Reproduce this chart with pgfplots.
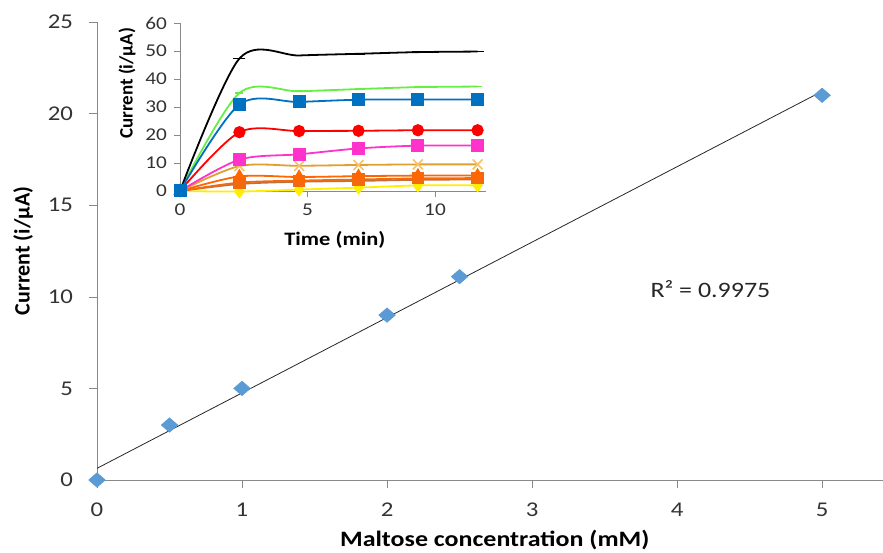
\documentclass[border=0pt]{standalone}
\usepackage{fontspec}
\setmainfont{Carlito}[FakeStretch=1.18]
\newfontfamily\nfont{Carlito}
\usepackage{pgfplots}
\pgfplotsset{compat=1.18}
\definecolor{diam}{HTML}{5B9BD5}
\definecolor{axgray}{HTML}{898989}
\definecolor{igreen}{HTML}{66EE44}
\definecolor{iblue}{HTML}{0070C0}
\definecolor{ired}{HTML}{FF0000}
\definecolor{imag}{HTML}{FF33CC}
\definecolor{igoldl}{HTML}{E0A030}
\definecolor{igoldm}{HTML}{F5C26B}
\definecolor{iorange}{HTML}{FF6600}
\definecolor{iorsq}{HTML}{F26A10}
\definecolor{ibrown}{HTML}{C07040}
\definecolor{iyellow}{HTML}{FFEE00}
\begin{document}
\begin{tikzpicture}
\begin{axis}[
  at={(0,0)}, anchor=south west, scale only axis,
  width=393pt, height=229pt,
  xmin=0, xmax=5.42, ymin=0, ymax=25,
  axis lines=left, axis line style={axgray, -},
  xtick={0,1,2,3,4,5}, ytick={0,5,10,15,20,25},
  tick style={axgray}, tick align=outside, major tick length=4pt,
  /pgf/number format/assume math mode=true,
  ticklabel style={font=\fontsize{10.5}{12}\selectfont, text=black!80},
  xticklabel style={yshift=-4pt},
  yticklabel style={xshift=-4.5pt},
  xlabel={\textbf{Maltose concentration (mM)}},
  ylabel={\nfont\bfseries Current (i/µA)},
  label style={font=\fontsize{11}{13}\selectfont},
  xlabel style={at={(axis description cs:0.506,-0.131)}, anchor=center},
  ylabel style={at={(axis description cs:-0.094,0.5)}, anchor=center},
  clip=false,
]
\addplot[black!85, thin, no marks] coordinates {(0,0.637) (5,21.217)};
\addplot[only marks, mark=square*, mark size=2.5pt, draw=none, fill=diam, color=diam,
  mark options={xscale=1.15, rotate=45}]
 coordinates {(0,0) (0.5,3) (1,5) (2,9) (2.5,11.1) (5,21)};
\node[font=\fontsize{11}{13}\selectfont, text=black!85] at (axis cs:4.23,10.4) {R² = 0.9975};
\end{axis}
\begin{axis}[
  at={(41.5pt,144.5pt)}, anchor=south west, scale only axis,
  width=153pt, height=84pt,
  xmin=0, xmax=12, ymin=0, ymax=60,
  axis lines=left, axis line style={axgray, -},
  xtick={0,5,10}, ytick={0,10,20,30,40,50,60},
  tick style={axgray}, tick align=outside, major tick length=3pt,
  /pgf/number format/assume math mode=true,
  ticklabel style={font=\fontsize{9}{11}\selectfont, text=black!80},
  xlabel={\textbf{Time (min)}},
  ylabel={\nfont\bfseries Current (i/µA)},
  label style={font=\fontsize{9.5}{11}\selectfont},
  xlabel style={at={(axis description cs:0.506,-0.292)}, anchor=center},
  ylabel style={at={(axis description cs:-0.173,0.64)}, anchor=center},
  clip=false,
  every axis plot/.append style={smooth, tension=0.5, line width=0.9pt},
]
\addplot[iyellow, mark=diamond*, mark size=2.8pt, mark options={fill=iyellow}]
 coordinates {(0,0) (2.33,-0.2) (4.67,0.5) (7,1.2) (9.33,2.0) (11.67,2.0)};
\addplot[ibrown, no marks]
 coordinates {(0,0) (2.33,2.5) (4.67,3.3) (7,3.6) (9.33,4.0) (11.67,4.1)};
\addplot[iorsq, mark=square*, mark size=2.6pt, mark options={fill=iorsq}]
 coordinates {(0,0) (2.33,3.0) (4.67,3.7) (7,4.1) (9.33,4.5) (11.67,4.6)};
\addplot[iorange, mark=triangle*, mark size=3pt, mark options={fill=iorange}]
 coordinates {(0,0) (2.33,5.2) (4.67,5.0) (7,5.3) (9.33,5.5) (11.67,5.5)};
\addplot[igoldl, mark=x, mark size=3.5pt, mark options={igoldm, line width=0.8pt}]
 coordinates {(0,0) (2.33,8.9) (4.67,9.0) (7,9.3) (9.33,9.5) (11.67,9.5)};
\addplot[imag, mark=square*, mark size=2.8pt, mark options={fill=imag}]
 coordinates {(0,0) (2.33,11.2) (4.67,13.1) (7,15.2) (9.33,16.2) (11.67,16.2)};
\addplot[ired, mark=*, mark size=2.6pt, mark options={fill=ired}]
 coordinates {(0,0) (2.33,21.0) (4.67,21.4) (7,21.5) (9.33,21.7) (11.67,21.7)};
\addplot[igreen, mark=-, mark size=2pt]
 coordinates {(0,0) (2.33,35.0) (4.67,35.6) (7,36.4) (9.33,37.1) (11.67,37.3)};
\addplot[black, mark=-, mark size=3pt]
 coordinates {(0,0) (2.33,47.3) (4.67,48.4) (7,49.0) (9.33,49.6) (11.67,49.8)};
\addplot[iblue, mark=square*, mark size=2.8pt, mark options={fill=iblue}]
 coordinates {(0,0) (2.33,30.9) (4.67,31.8) (7,32.6) (9.33,32.7) (11.67,32.7)};
\end{axis}
\pgfresetboundingbox
\path[use as bounding box] (-48.5pt,-36pt) rectangle (393pt,240pt);
\end{tikzpicture}
\end{document}
